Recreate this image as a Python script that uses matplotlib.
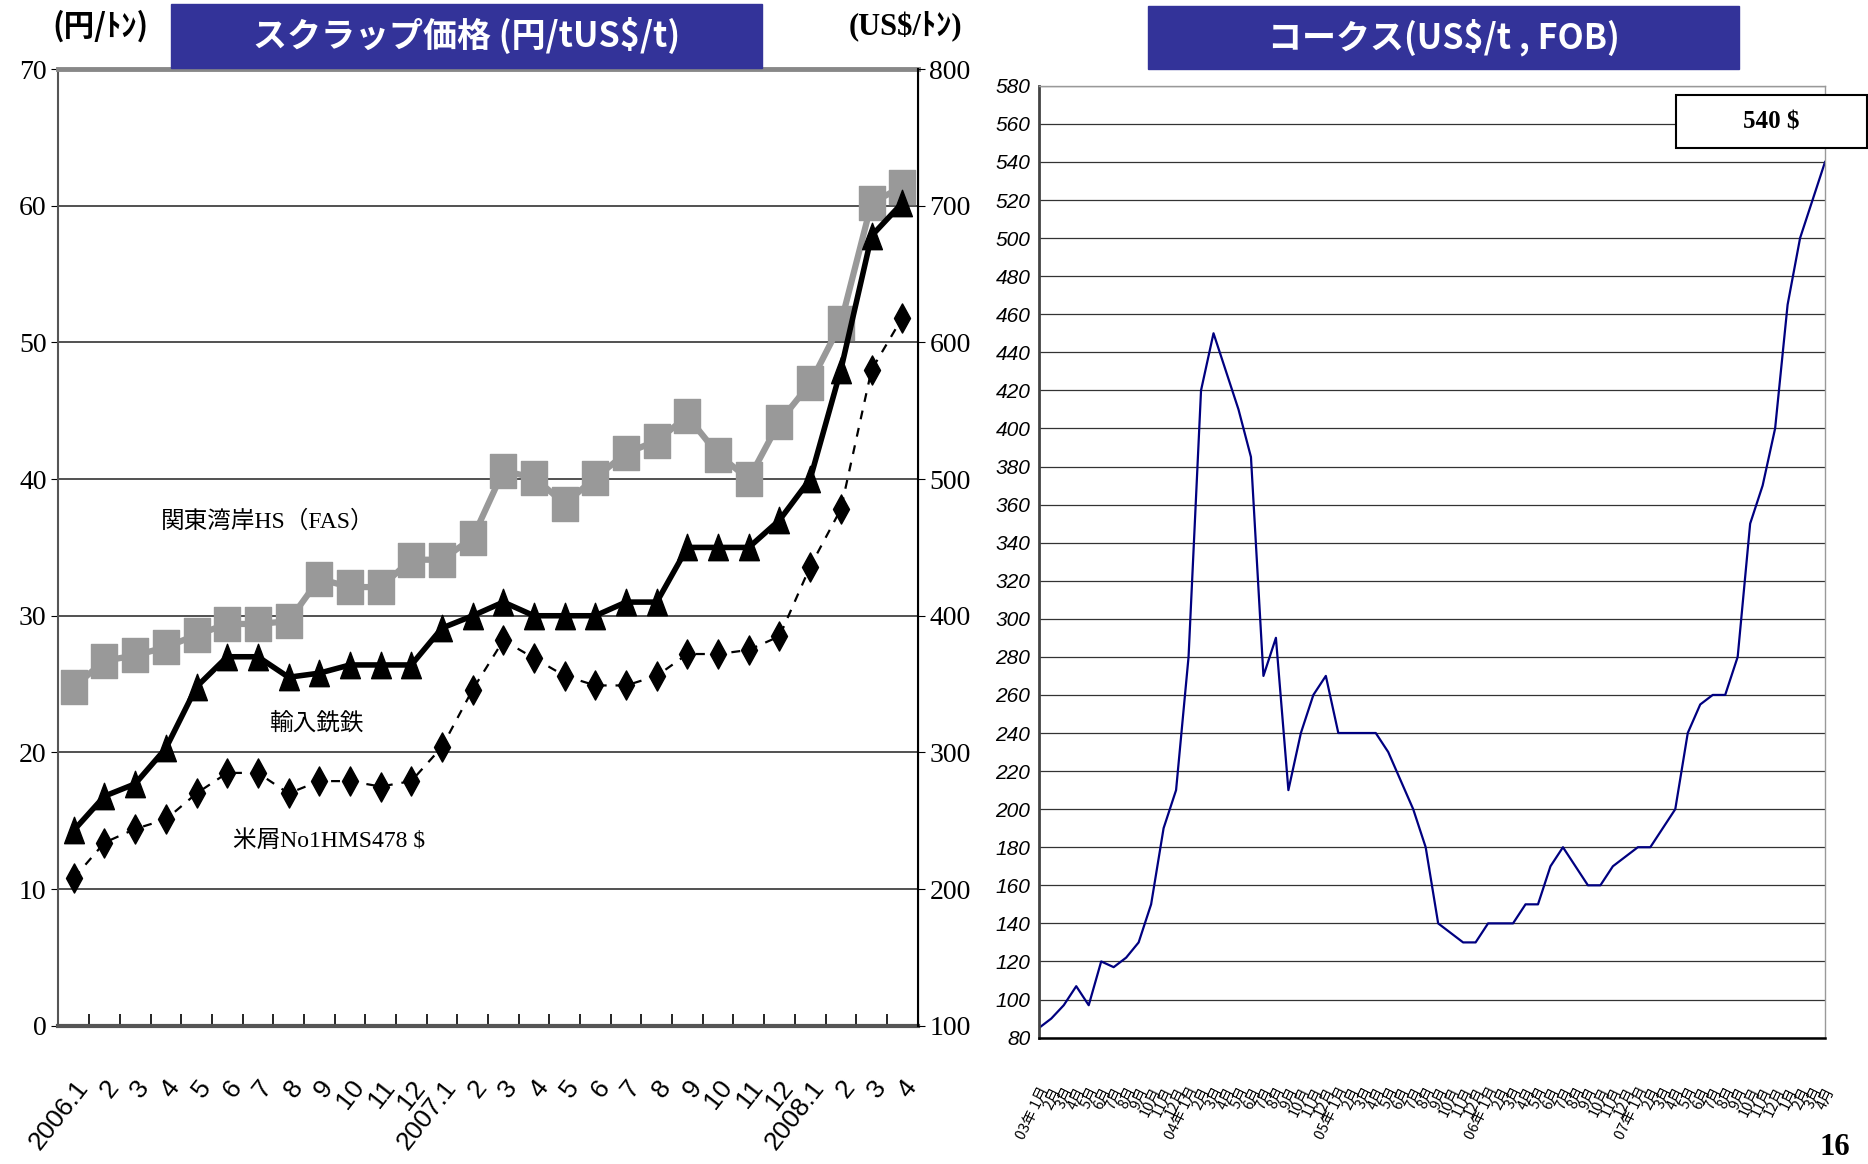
import matplotlib
matplotlib.use("Agg")
import matplotlib.pyplot as plt
from matplotlib.patches import Rectangle
from matplotlib.path import Path

plt.rcParams['font.family'] = ['Noto Sans CJK JP', 'DejaVu Sans']

# scrap prices, 2006.1 - 2008.4
months = ['2006.1', '2', '3', '4', '5', '6', '7', '8', '9', '10', '11', '12',
          '2007.1', '2', '3', '4', '5', '6', '7', '8', '9', '10', '11', '12',
          '2008.1', '2', '3', '4']
hs_fas = [24.8, 26.7, 27.1, 27.7, 28.6, 29.4, 29.4, 29.6, 32.7, 32.1, 32.1, 34.1,
          34.1, 35.7, 40.6, 40.1, 38.2, 40.1, 41.9, 42.8, 44.6, 41.8, 40.0, 44.2,
          47.0, 51.4, 60.2, 61.4]
pig_iron = [14.3, 16.8, 17.7, 20.3, 24.8, 27.0, 27.0, 25.5, 25.8, 26.4, 26.4, 26.4,
            29.1, 30.0, 31.0, 30.0, 30.0, 30.0, 31.0, 31.0, 35.0, 35.0, 35.0, 37.0,
            40.0, 48.0, 57.8, 60.2]
us_hms = [208, 234, 244, 251, 270, 285, 285, 270, 279, 279, 275, 279,
          304, 346, 382, 369, 356, 349, 349, 356, 372, 372, 375, 385,
          436, 478, 580, 618]

# coke price, 03/1 - 08/4
coke_labels = []
for yy in ['03', '04', '05', '06', '07']:
    for m in range(1, 13):
        coke_labels.append(f'{yy}年 1月' if m == 1 else f'{m}月')
coke_labels += ['1月', '2月', '3月', '4月']
coke = [85, 90, 97, 107, 97, 120, 117, 122, 130, 150, 190, 210, 280, 420, 450, 430,
        410, 385, 270, 290, 210, 240, 260, 270, 240, 240, 240, 240, 230, 215, 200, 180,
        140, 135, 130, 130, 140, 140, 140, 150, 150, 170, 180, 170, 160, 160, 170, 175,
        180, 180, 190, 200, 240, 255, 260, 260, 280, 350, 370, 400, 465, 500, 520, 540]

NAVY_BOX = '#333399'
serif = ['Liberation Serif', 'Noto Sans CJK JP']
narrow = ['Liberation Sans Narrow', 'Liberation Sans', 'DejaVu Sans']

rect_marker = Path([(-0.75, -1), (0.75, -1), (0.75, 1), (-0.75, 1), (-0.75, -1)], closed=True)
tri_marker = Path([(0, 1), (0.75, -1), (-0.75, -1), (0, 1)], closed=True)
dia_marker = Path([(0, 1), (0.55, 0), (0, -1), (-0.55, 0), (0, 1)], closed=True)

fig = plt.figure(figsize=(18.68, 11.64), dpi=100)

# ---- left chart ----
ax = fig.add_axes([0.0313, 0.1188, 0.4599, 0.8218])
axr = ax.twinx()
x = list(range(len(months)))

ax.plot(x, hs_fas, color='#999999', lw=4.5, marker=rect_marker, ms=25, zorder=3)
ax.plot(x, pig_iron, color='black', lw=4, marker=tri_marker, ms=19, zorder=4)
axr.plot(x, us_hms, color='black', lw=1.6, ls=(0, (4, 4)), marker=dia_marker, ms=21)

ax.set_xlim(-0.5, len(months) - 0.5)
ax.set_ylim(0, 70)
ax.set_yticks(range(0, 71, 10))
axr.set_ylim(100, 800)
axr.set_yticks(range(100, 801, 100))
ax.yaxis.grid(True, color='#333333', lw=1.2)
ax.set_axisbelow(True)

ax.set_xticks(x)
ax.set_xticklabels(months, rotation=52, ha='right', va='top', rotation_mode='anchor',
                   fontsize=19, family=narrow)
ax.tick_params(axis='x', which='major', length=0, pad=36)
ax.set_xticks([i + 0.5 for i in range(len(months) - 1)], minor=True)
ax.tick_params(axis='x', which='minor', direction='in', length=9, width=1.2, color='black')
ax.tick_params(axis='y', direction='out', length=5, labelsize=20)
axr.tick_params(axis='y', direction='out', length=5, labelsize=20)
for lab in ax.get_yticklabels() + axr.get_yticklabels():
    lab.set_family('Liberation Serif')

ax.spines['top'].set_color('#888888')
ax.spines['top'].set_linewidth(3.5)
ax.spines['left'].set_color('#555555')
ax.spines['left'].set_linewidth(1.5)
ax.spines['bottom'].set_color('#555555')
ax.spines['bottom'].set_linewidth(3)
for s in ['top', 'left', 'bottom']:
    axr.spines[s].set_visible(False)
axr.spines['right'].set_linewidth(1.5)

ax.text(0.243, 0.5266, '関東湾岸HS（FAS）', transform=ax.transAxes, ha='center',
        va='center', fontsize=17, family=serif)
ax.text(0.300, 0.3164, '輸入銑鉄', transform=ax.transAxes, ha='center', va='center',
        fontsize=17, family=serif)
ax.text(0.315, 0.193, '米屑No1HMS478 $', transform=ax.transAxes, ha='center',
        va='center', fontsize=17, family=serif)

# ---- right chart ----
ax2 = fig.add_axes([0.5561, 0.1086, 0.4209, 0.8177])
cx = list(range(len(coke)))
ax2.plot(cx, coke, color='#000080', lw=1.6)
ax2.set_xlim(0, len(coke) - 1)
ax2.set_ylim(80, 580)
ax2.set_yticks(range(80, 581, 20))
ax2.yaxis.grid(True, color='#333333', lw=0.9)
ax2.set_axisbelow(True)
ax2.tick_params(axis='y', length=0, pad=6, labelsize=15)
for lab in ax2.get_yticklabels():
    lab.set_family(narrow)
    lab.set_style('italic')

ax2.set_xticks(cx)
ax2.set_xticklabels(coke_labels, rotation=64, ha='right', va='top', rotation_mode='anchor',
                    fontsize=10.5)
ax2.tick_params(axis='x', which='major', length=0, pad=34)
ax2.set_xticks([30, 60], minor=True)
ax2.tick_params(axis='x', which='minor', direction='in', length=8, width=1, color='#444444')

ax2.spines['left'].set_color('#444444')
ax2.spines['left'].set_linewidth(2)
ax2.spines['bottom'].set_linewidth(1.8)
for s in ['top', 'right']:
    ax2.spines[s].set_color('#999999')
    ax2.spines[s].set_linewidth(1)

# ---- titles and boxes ----
fig.patches.append(Rectangle((0.0918, 0.9417), 0.3163, 0.0552, transform=fig.transFigure,
                             color=NAVY_BOX))
fig.text(0.25, 0.9693, 'スクラップ価格 (円/tUS$/t)', color='white', fontsize=24.5,
         fontweight='bold', ha='center', va='center')
fig.patches.append(Rectangle((0.6148, 0.9406), 0.3163, 0.0542, transform=fig.transFigure,
                             color=NAVY_BOX))
fig.text(0.773, 0.9677, 'コークス(US$/t , FOB)', color='white', fontsize=24.5,
         fontweight='bold', ha='center', va='center')

fig.text(0.054, 0.9777, '(円/ﾄﾝ)', fontsize=22, fontweight='bold', ha='center', va='center')
fig.text(0.4846, 0.9777, '(US$/ﾄﾝ)', fontsize=22, fontweight='bold', ha='center',
         va='center', family=serif)

fig.patches.append(Rectangle((0.8973, 0.8729), 0.1022, 0.0455, transform=fig.transFigure,
                             facecolor='white', edgecolor='black', lw=1.5))
fig.text(0.9484, 0.8956, '540 $', fontsize=18, fontweight='bold', ha='center', va='center',
         family='Liberation Serif')

fig.text(0.982, 0.002, '16', fontsize=22, fontweight='bold', ha='center', va='bottom',
         family='Liberation Serif')

fig.savefig('out.png', dpi=100)
